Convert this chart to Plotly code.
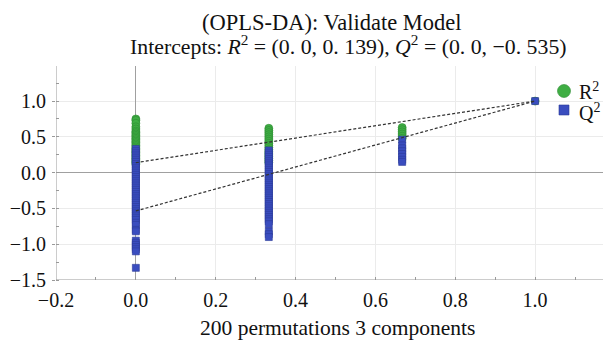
import plotly.graph_objects as go

# ---- data ----
x_levels = [0.0, 0.333, 0.667, 1.0]

r2_x0 = [0.75, 0.73, 0.69, 0.64, 0.61, 0.58, 0.56, 0.54, 0.52, 0.50, 0.48, 0.46, 0.44,
         0.42, 0.40, 0.38, 0.36, 0.34, 0.32, 0.30, 0.28, 0.26, 0.24, 0.22, 0.20, 0.18,
         0.16, 0.14, 0.12]
q2_x0 = [0.33, 0.30, 0.27, 0.24, 0.21, 0.18, 0.15, 0.12, 0.09, 0.06, 0.03, 0.0, -0.03,
         -0.06, -0.09, -0.12, -0.15, -0.18, -0.21, -0.24, -0.27, -0.30, -0.33, -0.36,
         -0.39, -0.42, -0.45, -0.48, -0.51, -0.54, -0.57, -0.60, -0.63, -0.66, -0.70,
         -0.73, -0.80, -0.82, -0.95, -0.98, -1.01, -1.04, -1.07, -1.10, -1.33]

r2_x1 = [0.62, 0.59, 0.56, 0.53, 0.50, 0.47, 0.44, 0.41, 0.38, 0.35, 0.32, 0.29, 0.26,
         0.23, 0.20, 0.17, 0.14]
q2_x1 = [0.31, 0.28, 0.25, 0.22, 0.19, 0.16, 0.13, 0.10, 0.07, 0.04, 0.01, -0.02, -0.05,
         -0.08, -0.11, -0.14, -0.17, -0.20, -0.23, -0.26, -0.29, -0.32, -0.35, -0.38,
         -0.41, -0.44, -0.47, -0.50, -0.53, -0.56, -0.59, -0.62, -0.65, -0.68, -0.72,
         -0.82, -0.86, -0.90]

r2_x2 = [0.63, 0.60, 0.57, 0.54, 0.51, 0.48]
q2_x2 = [0.46, 0.38, 0.34, 0.30, 0.26, 0.22, 0.18, 0.15]

r2_x3 = [1.0]
q2_x3 = [1.0]

r2_intercept = 0.139
q2_intercept = -0.535

legend_labels = ["R<sup>2</sup>", "Q<sup>2</sup>"]

groups_r2 = [r2_x0, r2_x1, r2_x2, r2_x3]
groups_q2 = [q2_x0, q2_x1, q2_x2, q2_x3]

r2_x, r2_y, q2_x, q2_y = [], [], [], []
for xv, g in zip(x_levels, groups_r2):
    r2_x += [xv] * len(g)
    r2_y += g
for xv, g in zip(x_levels, groups_q2):
    q2_x += [xv] * len(g)
    q2_y += g

GREEN = "#3fae44"
BLUE = "#3a4dbf"
FONT = "Liberation Serif"
TXT = "#111111"

fig = go.Figure()

fig.add_trace(go.Scatter(x=r2_x, y=r2_y, mode="markers", name=legend_labels[0],
                         marker=dict(symbol="circle", size=8, color=GREEN,
                                     line=dict(color="#2e8b33", width=0.6))))
fig.add_trace(go.Scatter(x=q2_x, y=q2_y, mode="markers", name=legend_labels[1],
                         marker=dict(symbol="square", size=7, color=BLUE,
                                     line=dict(color="#2c3a99", width=0.6))))

# regression (intercept) lines
fig.add_trace(go.Scatter(x=[0.0, 1.0], y=[r2_intercept, r2_y[-1]], mode="lines",
                         line=dict(color="#333333", width=1.2, dash="3px,2px"),
                         hoverinfo="skip"))
fig.add_trace(go.Scatter(x=[0.0, 1.0], y=[q2_intercept, q2_y[-1]], mode="lines",
                         line=dict(color="#333333", width=1.2, dash="3px,2px"),
                         hoverinfo="skip"))


def axis(**kw):
    d = dict(
        showline=False,
        gridcolor="#ebebeb", gridwidth=1,
        zeroline=True, zerolinecolor="#a0a0a0", zerolinewidth=1,
        tickformat=".1f",
        ticks="inside", ticklen=3, tickcolor="#999999", tickwidth=1,
        tickfont=dict(family=FONT, size=20, color=TXT),
    )
    d.update(kw)
    return d


fig.update_layout(
    width=610, height=344,
    margin=dict(l=56, r=7, t=66, b=64, autoexpand=False),
    paper_bgcolor="white", plot_bgcolor="white",
    font=dict(family=FONT, size=20, color=TXT),
    xaxis=axis(range=[-0.2, 1.17], tick0=-0.2, dtick=0.2, ticklabelstandoff=6,
               minor=dict(dtick=0.1, ticks="inside", ticklen=3, tickcolor="#999999",
                          showgrid=False)),
    yaxis=axis(range=[-1.5, 1.49], tick0=-1.5, dtick=0.5, ticks="outside",
               ticklabelstandoff=2,
               minor=dict(dtick=0.25, ticks="inside", ticklen=3, tickcolor="#999999",
                          showgrid=False)),
    showlegend=False,
)

# axis lines with arrows
fig.add_shape(type="line", xref="x", yref="y", x0=-0.2, x1=-0.2, y0=-1.5, y1=1.49,
              line=dict(color="#999999", width=1))
fig.add_shape(type="line", xref="x", yref="y", x0=-0.2, x1=1.17, y0=-1.5, y1=-1.5,
              line=dict(color="#999999", width=1))
fig.add_annotation(x=-0.2, y=1.53, xref="x", yref="y", ax=0, ay=12, showarrow=True,
                   arrowhead=2, arrowsize=0.8, arrowwidth=1, arrowcolor="#999999", text="")
fig.add_annotation(x=1.175, y=-1.5, xref="x", yref="y", ax=-12, ay=0, showarrow=True,
                   arrowhead=2, arrowsize=0.8, arrowwidth=1, arrowcolor="#999999", text="")

# legend (drawn manually for exact placement)
LEG_X = 0.9287            # paper x of legend symbols
LEG_Y = [0.8832, 0.7944]  # paper y of the two rows
fig.add_shape(type="circle", xref="paper", yref="paper", xsizemode="pixel",
              ysizemode="pixel", xanchor=LEG_X, yanchor=LEG_Y[0],
              x0=-6.5, x1=6.5, y0=-6.5, y1=6.5,
              fillcolor=GREEN, line=dict(color="#2e8b33", width=0.6))
fig.add_shape(type="rect", xref="paper", yref="paper", xsizemode="pixel",
              ysizemode="pixel", xanchor=LEG_X, yanchor=LEG_Y[1],
              x0=-5, x1=5, y0=-5, y1=5,
              fillcolor=BLUE, line=dict(color="#2c3a99", width=0.6))
for lab, ly in zip(legend_labels, [LEG_Y[0], LEG_Y[1] - 0.01]):
    fig.add_annotation(text=lab, xref="paper", yref="paper", x=0.9525, y=ly,
                       xanchor="left", yanchor="middle", showarrow=False,
                       font=dict(family=FONT, size=20, color=TXT))

# titles
fig.add_annotation(text="(OPLS-DA): Validate Model", xref="paper", yref="paper",
                   x=0.5046, y=1.205, showarrow=False, xanchor="center", yanchor="middle",
                   font=dict(family=FONT, size=22.5, color=TXT))
fig.add_annotation(text="Intercepts: <i>R</i><sup>2</sup> = (0. 0, 0. 139), "
                        "<i>Q</i><sup>2</sup> = (0. 0, \u22120. 535)",
                   xref="paper", yref="paper", x=0.5356, y=1.10, showarrow=False,
                   xanchor="center", yanchor="middle",
                   font=dict(family=FONT, size=21.8, color=TXT))
fig.add_annotation(text="200 permutations 3 components", xref="paper", yref="paper",
                   x=0.514, y=-0.224, showarrow=False, xanchor="center", yanchor="middle",
                   font=dict(family=FONT, size=21.5, color=TXT))

fig.write_html("out.html")
